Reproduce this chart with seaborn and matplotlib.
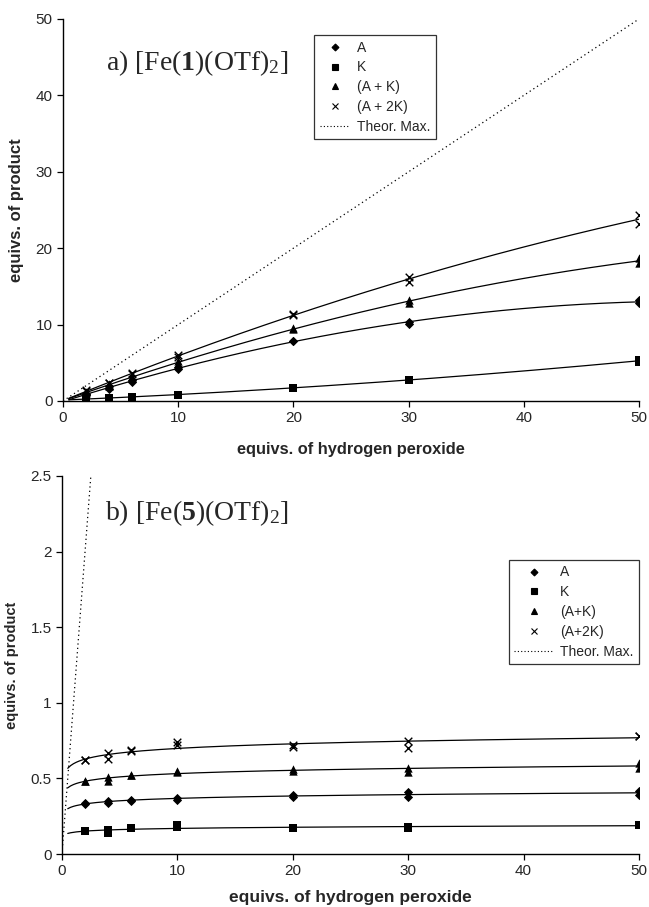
import numpy as np
import pandas as pd
import matplotlib
matplotlib.use('Agg')
import matplotlib.pyplot as plt
from matplotlib.lines import Line2D
import seaborn as sns

# H2O2 equivalents (duplicate runs at each point)
X_PTS = [2, 2, 4, 4, 6, 6, 10, 10, 20, 20, 30, 30, 50, 50]

# a) [Fe(1)(OTf)2]
A1 = [0.8, 0.9, 1.6, 1.9, 2.5, 2.7, 4.2, 4.5, 7.8, 7.9, 10.1, 10.4, 12.8, 13.2]
K1 = [0.3, 0.3, 0.4, 0.4, 0.5, 0.5, 0.8, 0.8, 1.7, 1.7, 2.8, 2.8, 5.1, 5.4]
AK1 = [1.1, 1.2, 2.0, 2.2, 3.0, 3.2, 4.9, 5.2, 9.4, 9.6, 12.8, 13.2, 18.0, 18.7]
A2K1 = [1.3, 1.4, 2.3, 2.4, 3.5, 3.7, 5.8, 6.0, 11.2, 11.4, 15.6, 16.2, 23.2, 24.4]

# b) [Fe(5)(OTf)2]
A5 = [0.33, 0.34, 0.34, 0.35, 0.35, 0.36, 0.36, 0.37, 0.38, 0.39, 0.38, 0.41, 0.39, 0.42]
K5 = [0.15, 0.15, 0.14, 0.16, 0.17, 0.17, 0.18, 0.19, 0.17, 0.17, 0.17, 0.18, 0.19, 0.19]
AK5 = [0.48, 0.48, 0.48, 0.51, 0.52, 0.52, 0.54, 0.55, 0.55, 0.56, 0.54, 0.57, 0.57, 0.60]
A2K5 = [0.62, 0.62, 0.63, 0.67, 0.68, 0.69, 0.72, 0.74, 0.71, 0.72, 0.70, 0.75, 0.78, 0.78]

THEOR_X = [0, 50]
LABELS_A = ['A', 'K', '(A + K)', '(A + 2K)', 'Theor. Max.']
LABELS_B = ['A', 'K', '(A+K)', '(A+2K)', 'Theor. Max.']
MARKERS = ['D', 's', '^', 'x']
MSIZES = [22, 36, 36, 30]

sns.set_style('ticks')
plt.rcParams['font.family'] = ['Liberation Sans', 'DejaVu Sans']
plt.rcParams['mathtext.fontset'] = 'custom'
plt.rcParams['mathtext.rm'] = 'Liberation Serif'
plt.rcParams['mathtext.it'] = 'Liberation Serif:italic'
plt.rcParams['mathtext.bf'] = 'Liberation Serif:bold'

FIT_START = 0.5


def draw_panel(ax, series, labels, fit, ylim, yticks, yticklabels, title, title_y,
               legend_anchor, legend_loc, fs_xlabel, fs_ylabel, handlelen, xpad):
    xfit = np.linspace(FIT_START, 50, 200)
    for vals, label, m, s in zip(series, labels, MARKERS, MSIZES):
        df = pd.DataFrame({'x': X_PTS, 'y': vals})
        sns.scatterplot(data=df, x='x', y='y', marker=m, s=s, color='black',
                        linewidth=1.0 if m == 'x' else 0, ax=ax, zorder=3)
        # trendlines like the spreadsheet ones: quadratic (a), logarithmic (b)
        if fit == 'poly':
            c = np.polyfit(X_PTS, vals, 2)
            yfit = np.polyval(c, xfit)
        else:
            c = np.polyfit(np.log(X_PTS), vals, 1)
            yfit = np.polyval(c, np.log(xfit))
        sns.lineplot(x=xfit, y=yfit, color='black', linewidth=0.9, ax=ax)

    sns.lineplot(x=THEOR_X, y=THEOR_X, color='black', linewidth=0.9,
                 linestyle=(0, (1, 2.5)), ax=ax)

    ax.set_xlim(0, 50)
    ax.set_ylim(*ylim)
    ax.set_xticks([0, 10, 20, 30, 40, 50])
    ax.set_yticks(yticks)
    ax.set_yticklabels(yticklabels)
    ax.tick_params(labelsize=11, length=4, width=0.9, color='black')
    for sp in ['left', 'bottom']:
        ax.spines[sp].set_linewidth(1.0)
        ax.spines[sp].set_color('black')
    sns.despine(ax=ax)
    ax.set_xlabel('equivs. of hydrogen peroxide', fontsize=fs_xlabel,
                  fontweight='bold', labelpad=xpad)
    ax.set_ylabel('equivs. of product', fontsize=fs_ylabel, fontweight='bold',
                  labelpad=8)

    ax.text(0.075, title_y, title, transform=ax.transAxes, fontsize=20,
            family='Liberation Serif', va='center', ha='left')

    handles = []
    for m in MARKERS:
        handles.append(Line2D([], [], marker=m, linestyle='none', color='black',
                              markersize=4.5 if m != 'D' else 3.5,
                              markeredgewidth=0.8))
    handles.append(Line2D([], [], color='black', linewidth=0.8,
                          linestyle=(0, (1, 2))))
    leg = ax.legend(handles, labels, loc=legend_loc, bbox_to_anchor=legend_anchor,
                    borderaxespad=0, fontsize=10, frameon=True, fancybox=False,
                    edgecolor='black', handlelength=handlelen, labelspacing=0.42,
                    handletextpad=0.5, borderpad=0.4)
    leg.get_frame().set_linewidth(0.9)


fig = plt.figure(figsize=(6.49, 9.07), dpi=100)
ax1 = fig.add_axes([0.0971, 0.5579, 0.8875, 0.4212])
ax2 = fig.add_axes([0.0955, 0.0584, 0.889, 0.4168])

draw_panel(ax1, [A1, K1, AK1, A2K1], LABELS_A, 'poly', (0, 50),
           [0, 10, 20, 30, 40, 50], ['0', '10', '20', '30', '40', '50'],
           r'a) [Fe($\mathbf{1}$)(OTf)$_2$]', 0.885, (0.436, 0.958), 'upper left',
           11.8, 12.0, 2.2, 12)
draw_panel(ax2, [A5, K5, AK5, A2K5], LABELS_B, 'log', (0, 2.5),
           [0, 0.5, 1, 1.5, 2, 2.5], ['0', '0.5', '1', '1.5', '2', '2.5'],
           r'b) [Fe($\mathbf{5}$)(OTf)$_2$]', 0.903, (1.0, 0.778), 'upper right',
           12.5, 10.5, 2.8, 8)

fig.savefig('out.png', dpi=100)
